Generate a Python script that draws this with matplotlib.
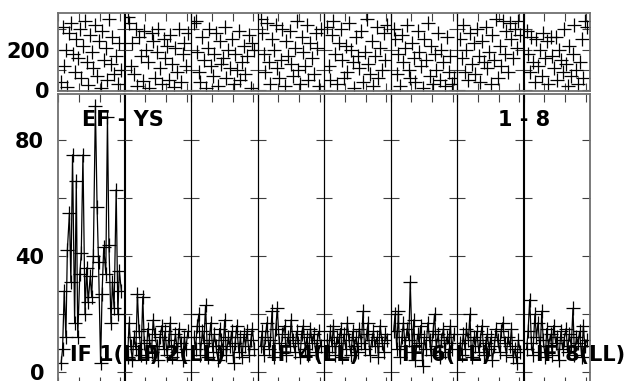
import matplotlib
matplotlib.use("Agg")
from matplotlib import pyplot as plt
from matplotlib.ticker import MultipleLocator, FuncFormatter

# time within each IF segment (same sampling for all)
t = [0.15, 0.22, 0.30, 0.38, 0.45, 0.55, 0.62, 0.70, 0.80, 0.88, 0.95, 1.05,
     1.12, 1.20, 1.30, 1.38, 1.45, 1.55, 1.62, 1.70, 1.80, 1.88, 1.95, 2.05,
     2.12, 2.20, 2.30, 2.38, 2.45, 2.55, 2.62, 2.70, 2.80, 2.88, 2.95, 3.05]

# amplitudes per IF
amp1 = [3, 8, 28, 12, 42, 55, 31, 75, 17, 66, 12, 34, 41, 75, 20, 36, 24, 33,
        26, 40, 92, 57, 38, 3, 27, 43, 34, 88, 44, 17, 31, 22, 63, 20, 35, 28]
amp2 = [5, 17, 9, 4, 12, 8, 27, 14, 6, 26, 10, 5, 15, 11, 7, 18, 13, 9,
        4, 12, 16, 8, 14, 6, 11, 17, 5, 9, 13, 7, 15, 10, 4, 12, 8, 14]
amp3 = [12, 8, 16, 20, 6, 14, 10, 23, 5, 11, 17, 7, 13, 9, 4, 15, 11, 8,
        18, 6, 12, 9, 14, 3, 10, 16, 7, 12, 5, 13, 9, 14, 6, 11, 15, 8]
amp4 = [9, 14, 6, 12, 17, 8, 11, 21, 5, 15, 22, 10, 7, 13, 16, 6, 12, 9,
        18, 11, 7, 14, 10, 5, 13, 16, 8, 12, 6, 15, 10, 13, 7, 11, 14, 9]
amp5 = [11, 7, 14, 9, 16, 6, 12, 10, 15, 5, 13, 8, 17, 11, 6, 14, 9, 12,
        7, 15, 10, 21, 8, 13, 17, 6, 11, 14, 9, 12, 5, 16, 10, 7, 13, 11]
amp6 = [14, 20, 8, 21, 5, 12, 17, 9, 15, 11, 31, 7, 18, 4, 13, 10, 16, 2,
        12, 8, 17, 11, 6, 14, 20, 9, 13, 5, 11, 15, 7, 12, 10, 16, 8, 13]
amp7 = [10, 6, 13, 8, 15, 11, 20, 5, 12, 9, 14, 7, 11, 16, 6, 10, 13, 8,
        12, 4, 9, 15, 11, 7, 14, 17, 10, 6, 12, 9, 15, 5, 8, 3, 11, 7]
amp8 = [8, 14, 25, 10, 6, 20, 12, 17, 7, 21, 11, 5, 15, 9, 13, 6, 16, 10,
        12, 4, 14, 8, 11, 15, 7, 13, 9, 22, 6, 12, 10, 14, 5, 16, 9, 11]

# phases per IF (deg)
ph1 = [40, 310, 120, 200, 15, 280, 330, 180, 90, 250, 160, 300, 60, 220, 340, 140, 25, 270,
       190, 110, 320, 70, 240, 10, 290, 150, 210, 50, 350, 130, 260, 80, 170, 30, 230, 100]
ph2 = [360, 330, 120, 230, 80, 300, 20, 260, 170, 45, 290, 200, 140, 10, 280, 240, 60, 190,
       300, 110, 30, 250, 160, 220, 50, 270, 130, 15, 210, 90, 300, 40, 180, 230, 120, 280]
ph3 = [330, 340, 190, 90, 40, 260, 150, 10, 210, 300, 120, 70, 180, 280, 20, 240, 130, 160,
       310, 60, 200, 110, 250, 30, 180, 100, 290, 50, 140, 220, 80, 170, 270, 10, 230, 200]
ph4 = [350, 280, 180, 90, 330, 140, 30, 250, 200, 320, 110, 60, 150, 300, 20, 240, 170, 290,
       130, 70, 210, 340, 100, 30, 260, 190, 120, 320, 50, 230, 160, 80, 280, 210, 20, 300]
ph5 = [310, 120, 50, 270, 340, 180, 30, 230, 300, 150, 60, 220, 90, 330, 200, 140, 10, 260,
       170, 110, 290, 40, 190, 350, 130, 80, 240, 20, 170, 310, 60, 210, 100, 280, 150, 320]
ph6 = [300, 250, 80, 180, 20, 270, 140, 210, 320, 100, 60, 230, 160, 40, 290, 190, 120, 10,
       250, 150, 330, 70, 220, 30, 180, 100, 280, 50, 200, 140, 20, 260, 90, 170, 30, 60]
ph7 = [250, 160, 320, 90, 200, 50, 280, 130, 230, 80, 300, 170, 40, 240, 140, 310, 110, 190,
       30, 270, 150, 350, 60, 220, 120, 340, 180, 290, 90, 330, 250, 160, 300, 210, 340, 270]
ph8 = [290, 180, 90, 260, 140, 40, 250, 120, 200, 70, 280, 160, 240, 30, 260, 170, 110, 260,
       50, 200, 150, 90, 300, 130, 20, 220, 70, 180, 320, 100, 30, 140, 250, 60, 340, 310]

amps = [amp1, amp2, amp3, amp4, amp5, amp6, amp7, amp8]
phases = [ph1, ph2, ph3, ph4, ph5, ph6, ph7, ph8]
if_labels = {0: "IF 1(LL)", 1: "IF 2(LL)", 3: "IF 4(LL)", 5: "IF 6(LL)", 7: "IF 8(LL)"}
baseline = "EF - YS"
if_range = "1 - 8"

W, H = 625, 381
fig = plt.figure(figsize=(W / 100, H / 100), dpi=100)
plt.rcParams['font.family'] = 'DejaVu Sans'

x0, x1 = 58, 590
segw = (x1 - x0) / 8.0
gray = '#707070'


def px_box(left, top, width, height):
    return [left / W, 1 - (top + height) / H, width / W, height / H]


def style(ax, i, first):
    ax.patch.set_visible(False)
    for s in ['top', 'bottom']:
        ax.spines[s].set_color(gray)
        ax.spines[s].set_linewidth(1.3)
    ax.spines['left'].set_color(gray if i == 0 else 'black')
    ax.spines['left'].set_linewidth(1.3 if i == 0 else 0.8)
    ax.spines['right'].set_color(gray if i == 7 else 'black')
    ax.spines['right'].set_linewidth(1.3 if i == 7 else 0.8)
    ax.tick_params(direction='in', length=6, width=0.8, color='#404040',
                   top=True, right=True, labelbottom=False, labelleft=first,
                   labelsize=15)
    for lab in ax.get_yticklabels():
        lab.set_fontweight('bold')
    ax.set_xlim(0, 3.2)
    ax.xaxis.set_major_locator(MultipleLocator(1))


for i in range(8):
    left = x0 + i * segw
    # phase panel
    axp = fig.add_axes(px_box(left, 12.7, segw, 78.0))
    axp.plot(t, phases[i], linestyle='none', marker='+', ms=9.5, mew=0.9, color='black')
    axp.set_ylim(-3, 382)
    axp.yaxis.set_major_locator(MultipleLocator(100))
    axp.yaxis.set_major_formatter(FuncFormatter(lambda v, p: f"{v:.0f}" if v % 200 == 0 else ""))
    style(axp, i, i == 0)
    axp.tick_params(axis='y', pad=6)

    # amplitude panel
    axa = fig.add_axes(px_box(left, 94.0, segw, 291.0))
    axa.plot(t, amps[i], '-', color='black', lw=0.9, marker='+', ms=9.5, mew=0.9)
    axa.set_ylim(-4.5, 96)
    axa.yaxis.set_major_locator(MultipleLocator(20))
    axa.yaxis.set_major_formatter(FuncFormatter(lambda v, p: f"{v:.0f}" if v % 40 == 0 else ""))
    style(axa, i, i == 0)
    axa.tick_params(axis='y', pad=10)

# labels drawn last so that they sit above the neighbouring segments
overlay = fig.add_axes([0, 0, 1, 1])
overlay.axis('off')
overlay.set_xlim(0, W)
overlay.set_ylim(H, 0)
for i, lab in if_labels.items():
    overlay.text(x0 + i * segw + 12, 355, lab, fontsize=15, fontweight='bold',
                 va='center', ha='left')
overlay.text(82, 120, baseline, fontsize=15, fontweight='bold', va='center', ha='left')
overlay.text(550, 120, if_range, fontsize=15, fontweight='bold', va='center', ha='right')

fig.savefig('out.png', dpi=100)
